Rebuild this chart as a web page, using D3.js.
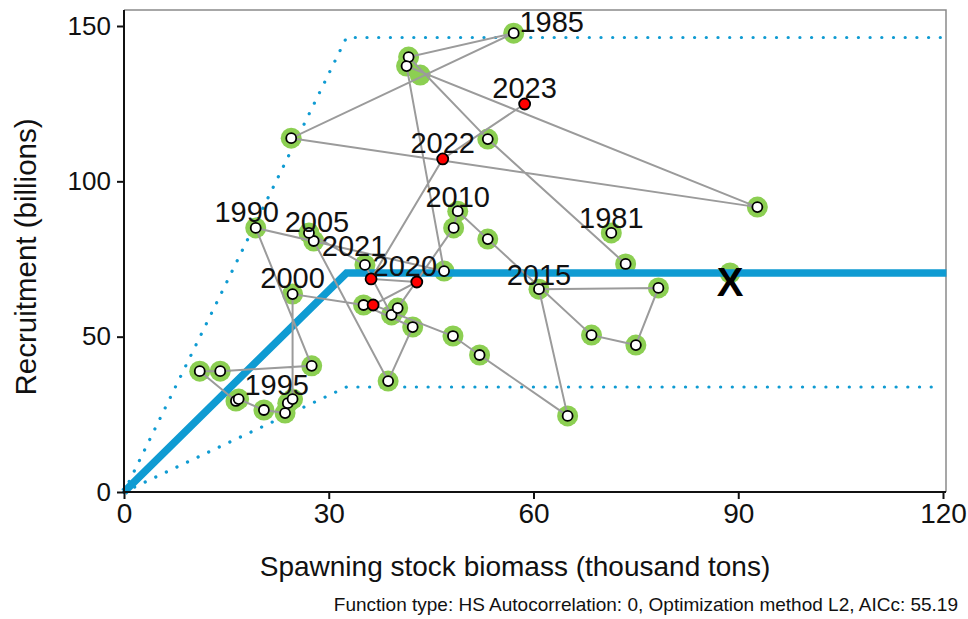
<!DOCTYPE html>
<html>
<head>
<meta charset="utf-8">
<script src="https://cdn.jsdelivr.net/npm/d3@7"></script>
<style>
  html, body { margin: 0; padding: 0; background: #fff; }
  svg text { font-family: "Liberation Sans", Arial, sans-serif; }
</style>
</head>
<body>
<svg id="chart" width="968" height="619"></svg>
<script>
// ---------------- data ----------------
const years = [1981,1982,1983,1984,1985,1986,1987,1988,1989,1990,
               1991,1992,1993,1994,1995,1996,1997,1998,1999,2000,
               2001,2002,2003,2004,2005,2006,2007,2008,2009,2010,
               2011,2012,2013,2014,2015,2016,2017,2018,2019,2020,
               2021,2022,2023];
// spawning stock biomass (thousand tons)
const ssb = [71.4,73.5,53.3,41.7,57.1,24.5,92.8,41.4,46.9,19.3,
             27.5,14.1,11.1,16.4,16.8,20.5,23.6,24.0,24.7,24.7,
             35.1,42.3,38.7,27.8,27.1,35.3,39.2,40.1,48.3,48.9,
             53.3,68.5,75.0,78.3,60.8,65.0,52.1,48.2,36.5,42.9,
             36.2,46.7,58.7];
// recruitment (billions)
const rec = [83.4,73.4,113.6,140.0,147.7,113.9,91.7,137.1,71.1,85.0,
             40.6,38.9,38.9,29.3,29.9,26.4,25.4,28.6,29.9,63.7,
             60.2,53.1,35.7,80.8,83.4,73.1,57.0,59.2,85.0,90.4,
             81.4,50.5,47.3,65.7,65.3,24.5,44.1,50.2,60.2,67.6,
             68.6,107.2,124.9];
const pathStartYear = 1982;          // the first year is not joined to the trajectory
const recentYears = [2019,2020,2021,2022,2023];
const labelYears = [1981,1985,1990,1995,2000,2005,2010,2015,2020,2021,2022,2023];
// extra highlighted (green) points without an observation marker
const extraHaloSsb = [43.4];
const extraHaloRec = [134.2];

// stock-recruitment fit (hockey stick) and its bands
const hsBreak = 32.6;
const hsLevel = 70.5;
const hsUpper = 146.3;
const hsLower = 33.8;
const xMax = 120.5;
const refPoint = {ssb: 88.8, rec: 70.5, label: "X"};

const xTicks = [0,30,60,90,120];
const yTicks = [0,50,100,150];
const xTitle = "Spawning stock biomass (thousand tons)";
const yTitle = "Recruitment (billions)";
const footnote = "Function type: HS Autocorrelation: 0, Optimization method L2, AICc: 55.19";

// label nudges in pixels (labels that were pushed off their point)
const labelNudge = {1981:[0,1],1985:[38,5],1990:[-9,0],1995:[38,2],2005:[8,5],2010:[0,2],
                    2015:[0,2],2020:[-12,0],2021:[-17,-17]};

// ---------------- drawing ----------------
const svg = d3.select("#chart");
const x = d3.scaleLinear().domain([0,120]).range([124, 943]);
const y = d3.scaleLinear().domain([0,150]).range([492, 26]);
const pLeft = 124, pRight = 946, pTop = 10, pBottom = 492;

const data = years.map((yr,i) => ({year: yr, ssb: ssb[i], rec: rec[i], recent: recentYears.includes(yr)}));

// panel border (top/right gray)
svg.append("path")
  .attr("d", `M${pLeft},${pTop}H${pRight}V${pBottom}`)
  .attr("fill","none").attr("stroke","#8a8a8a").attr("stroke-width",1.5);

const blue = "#0f9bd2";
const line = d3.line().x(d => x(d[0])).y(d => y(d[1]));

// dotted bands
[hsUpper, hsLower].forEach(lv => {
  svg.append("path")
    .attr("d", line([[0,0],[hsBreak,lv],[xMax - 0.8,lv]]))
    .attr("fill","none").attr("stroke", blue).attr("stroke-width",3.2)
    .attr("stroke-dasharray","0.1,11.6").attr("stroke-linecap","round");
});

// green halos
const halo = "#8ccf52";
const haloPts = data.filter(d => !d.recent).map(d => [d.ssb, d.rec])
  .concat(extraHaloSsb.map((s,i) => [s, extraHaloRec[i]]))
  .concat([[refPoint.ssb, refPoint.rec]]);
svg.append("g").selectAll("circle").data(haloPts).join("circle")
  .attr("cx", d => x(d[0])).attr("cy", d => y(d[1])).attr("r", 10.5)
  .attr("fill", halo);

// fitted hockey stick
svg.append("path")
  .attr("d", line([[0,0],[hsBreak,hsLevel],[xMax,hsLevel]]))
  .attr("fill","none").attr("stroke", blue).attr("stroke-width",7.5);

// year trajectory
svg.append("path")
  .attr("d", d3.line().x(d => x(d.ssb)).y(d => y(d.rec))(data.filter(d => d.year >= pathStartYear)))
  .attr("fill","none").attr("stroke","#9b9b9b").attr("stroke-width",2);

// points
svg.append("g").selectAll("circle").data(data).join("circle")
  .attr("cx", d => x(d.ssb)).attr("cy", d => y(d.rec))
  .attr("r", d => d.recent ? 5.5 : 5)
  .attr("fill", d => d.recent ? "#ff0000" : "#ffffff")
  .attr("stroke","#000").attr("stroke-width",1.8);

// reference X
svg.append("text").attr("x", x(refPoint.ssb)).attr("y", y(refPoint.rec) + 23)
  .attr("text-anchor","middle").attr("font-size",40).attr("font-weight","bold")
  .attr("fill","#000").text(refPoint.label);

// year labels
svg.append("g").selectAll("text").data(data.filter(d => labelYears.includes(d.year))).join("text")
  .attr("x", d => x(d.ssb) + (labelNudge[d.year] ? labelNudge[d.year][0] : 0))
  .attr("y", d => y(d.rec) - 6 + (labelNudge[d.year] ? labelNudge[d.year][1] : 0))
  .attr("text-anchor","middle").attr("font-size",29).attr("fill","#111")
  .text(d => d.year);

// axes
const xAxis = d3.axisBottom(x).tickValues(xTicks).tickSize(7).tickPadding(4).tickSizeOuter(0);
const yAxis = d3.axisLeft(y).tickValues(yTicks).tickSize(7).tickPadding(6).tickSizeOuter(0);
const gx = svg.append("g").attr("transform", `translate(0,${pBottom})`).call(xAxis);
const gy = svg.append("g").attr("transform", `translate(${pLeft},0)`).call(yAxis);
gx.select(".domain").attr("d", `M${pLeft},0H${pRight}`).attr("stroke","#111").attr("stroke-width",2);
gy.select(".domain").attr("d", `M0,${pTop}V${pBottom}`).attr("stroke","#111").attr("stroke-width",2);
gx.selectAll(".tick line").attr("stroke","#111").attr("stroke-width",2);
gy.selectAll(".tick line").attr("stroke","#111").attr("stroke-width",2);
gx.selectAll(".tick text").attr("font-size",28).attr("fill","#111").attr("font-family","Liberation Sans, Arial, sans-serif");
gy.selectAll(".tick text").attr("font-size",26).attr("fill","#111").attr("font-family","Liberation Sans, Arial, sans-serif");

// titles
svg.append("text").attr("x", 515).attr("y", 576).attr("text-anchor","middle")
  .attr("font-size",28).attr("fill","#111").text(xTitle);
svg.append("text").attr("transform","translate(36,257) rotate(-90)").attr("text-anchor","middle")
  .attr("font-size",29.5).attr("fill","#111").text(yTitle);
svg.append("text").attr("x", 958).attr("y", 611).attr("text-anchor","end")
  .attr("font-size",19).attr("fill","#111").text(footnote);
</script>
</body>
</html>
